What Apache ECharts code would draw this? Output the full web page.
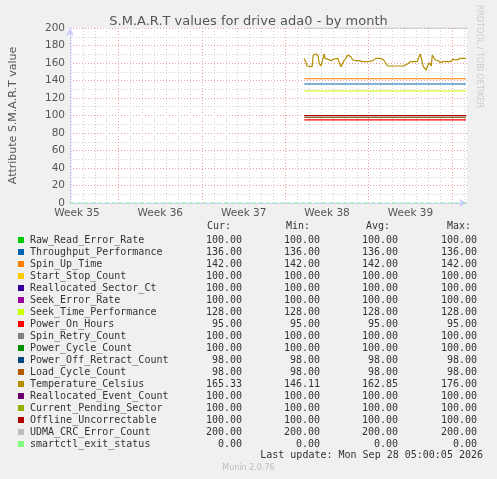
<!DOCTYPE html>
<html><head><meta charset="utf-8">
<script src="https://cdn.jsdelivr.net/npm/echarts@6/dist/echarts.min.js"></script>
<style>html,body{margin:0;background:#f0f0f0}#c{width:497px;height:479px}</style>
</head><body><div id="c"></div>
<script>
// x axis: 2-hour buckets across the month view
const slotCount = 401;
const weekLabels = { 7: 'Week 35', 91: 'Week 36', 175: 'Week 37', 259: 'Week 38', 343: 'Week 39' };
const majorSlots = [49, 133, 217, 301, 385];
const dataStart = 236, dataEnd = 399;

const names = ['Raw_Read_Error_Rate','Throughput_Performance','Spin_Up_Time','Start_Stop_Count',
  'Reallocated_Sector_Ct','Seek_Error_Rate','Seek_Time_Performance','Power_On_Hours','Spin_Retry_Count',
  'Power_Cycle_Count','Power_Off_Retract_Count','Load_Cycle_Count','Temperature_Celsius',
  'Reallocated_Event_Count','Current_Pending_Sector','Offline_Uncorrectable','UDMA_CRC_Error_Count',
  'smartctl_exit_status'];
const colors = ['#00cc00','#0066b3','#ff8000','#ffcc00','#330099','#990099','#ccff00','#ff0000','#808080',
  '#008f00','#00487d','#b35a00','#b38f00','#6b006b','#8fb300','#b30000','#bebebe','#80ff80'];
const cur = [100,136,142,100,100,100,128,95,100,100,98,98,165.33,100,100,100,200,0];
const min = [100,136,142,100,100,100,128,95,100,100,98,98,146.11,100,100,100,200,0];
const avg = [100,136,142,100,100,100,128,95,100,100,98,98,162.85,100,100,100,200,0];
const max = [100,136,142,100,100,100,128,95,100,100,98,98,176,100,100,100,200,0];

const tempIdx = [236,238,239,241,244,245,246,248,250,251,253,255,256,257,260,261,263,265,266,268,
  270,271,273,275,276,278,280,281,283,285,286,288,290,291,293,295,296,298,300,301,
  303,305,306,308,310,313,315,316,318,320,323,326,330,333,336,338,340,343,346,350,
  351,353,354,356,357,359,360,362,364,365,366,368,370,371,373,375,376,380,383,386,
  388,390,391,393,395,396,399];
const tempVal = [165.3,164.6,156.6,155.8,155.8,169.1,167.2,170.3,168,159.6,156.6,156.6,170.3,165.3,164.2,165.3,162.7,162.7,164.6,162.7,
  165.3,161.5,155.8,155.8,162.7,165.3,169.1,170.3,167.2,163.4,161.5,162.7,161.5,162.7,161.5,161.5,162.7,161.5,162.7,161.5,
  163.4,162.7,164.2,165.3,165.3,165.3,165.3,163.4,163.4,156.6,156.6,156.6,156.6,156.6,156.6,157.7,158.9,161.5,161.5,161.5,
  165.3,170.3,165.3,155.8,156.6,152,155.8,160.4,156.6,169.1,167.2,163.4,163.4,162.7,160.4,158.9,161.5,161.5,161.5,164.2,
  165.3,163.4,163.4,165.3,164.2,165.3,165.3];

const slots = Array.from({ length: slotCount }, (_, i) => String(i));
const fmt = v => v.toFixed(2);

const series = names.map((n, k) => {
  let data;
  if (n === 'Temperature_Celsius') data = tempIdx.map((x, j) => [x, tempVal[j]]);
  else if (n === 'smartctl_exit_status') data = [[0, cur[k]], [dataEnd, cur[k]]];
  else data = [[dataStart, cur[k]], [dataEnd, cur[k]]];
  return {
    name: n, type: 'line', data, symbol: 'none', animation: false,
    lineStyle: { color: colors[k], width: 1.2, type: n === 'smartctl_exit_status' ? [4, 3] : 'solid' },
    itemStyle: { color: colors[k] }
  };
});

const grid = { left: 67, right: 30, top: 28, bottom: 276 };
const chart = echarts.init(document.getElementById('c'), null, { renderer: 'canvas' });
chart.setOption({
  backgroundColor: '#f0f0f0',
  textStyle: { fontFamily: 'DejaVu Sans' },
  title: { text: 'S.M.A.R.T values for drive ada0 - by month', left: 'center', top: 10,
    textStyle: { fontSize: 13, fontWeight: 'normal', color: '#555' } },
  grid: Object.assign({ backgroundColor: '#fff', show: true, borderWidth: 0 }, grid),
  xAxis: [{
    type: 'category', data: slots, boundaryGap: false,
    axisLine: { lineStyle: { color: '#ccccff' }, symbol: ['none', 'arrow'], symbolSize: [6, 8] },
    axisTick: { show: false },
    axisLabel: { interval: i => weekLabels[i] !== undefined, formatter: (v, i) => weekLabels[i] || '',
      color: '#555', fontSize: 10.5, margin: 5 },
    splitLine: { show: true, interval: i => majorSlots.includes(i), lineStyle: { color: '#e8a0a0', type: [1, 2] } }
  }, {
    type: 'category', data: slots, boundaryGap: false, show: true, position: 'bottom',
    axisLine: { show: false }, axisTick: { show: false }, axisLabel: { show: false },
    splitLine: { show: true, interval: i => i % 12 === 1 && !majorSlots.includes(i), lineStyle: { color: '#d0d0d0', type: [1, 2] } }
  }],
  yAxis: {
    type: 'value', min: 0, max: 200, interval: 20,
    name: 'Attribute S.M.A.R.T value', nameLocation: 'middle', nameGap: 51, nameRotate: 90,
    nameTextStyle: { color: '#555', fontSize: 11 },
    axisLine: { show: true, lineStyle: { color: '#ccccff' }, symbol: ['none', 'arrow'], symbolSize: [6, 8] },
    axisTick: { show: false },
    axisLabel: { color: '#555', fontSize: 10.5, margin: 5 },
    splitLine: { lineStyle: { color: '#e8a0a0', type: [1, 2] } },
    minorTick: { show: false, splitNumber: 2 },
    minorSplitLine: { show: true, lineStyle: { color: '#d0d0d0', type: [1, 2] } }
  },
  legend: {
    orient: 'vertical', left: 13, top: 229, itemGap: 0, itemWidth: 6, itemHeight: 6,
    icon: 'rect', selectedMode: false, data: names.map((n, k) => ({ name: n, itemStyle: { color: colors[k] } })),
    formatter: n => {
      const k = names.indexOf(n);
      return `{n|${n}}{c|${fmt(cur[k])}}{m|${fmt(min[k])}}{a|${fmt(avg[k])}}{x|${fmt(max[k])}}`;
    },
    textStyle: {
      fontFamily: 'DejaVu Sans Mono', fontSize: 10, color: '#333', lineHeight: 12, padding: [0, 0, 0, 1],
      rich: {
        n: { width: 152, fontFamily: 'DejaVu Sans Mono', fontSize: 10, color: '#333' },
        c: { width: 60, align: 'right', fontFamily: 'DejaVu Sans Mono', fontSize: 10, color: '#333' },
        m: { width: 78, align: 'right', fontFamily: 'DejaVu Sans Mono', fontSize: 10, color: '#333' },
        a: { width: 78, align: 'right', fontFamily: 'DejaVu Sans Mono', fontSize: 10, color: '#333' },
        x: { width: 79, align: 'right', fontFamily: 'DejaVu Sans Mono', fontSize: 10, color: '#333' }
      }
    }
  },
  graphic: [
    ...[['Cur:', 231], ['Min:', 310], ['Avg:', 390], ['Max:', 471]].map(([t, x]) => ({
      type: 'text', right: 497 - x, top: 221, style: { text: t, font: '10px "DejaVu Sans Mono"', fill: '#333' } })),
    { type: 'text', right: 14, top: 450, style: { text: 'Last update: Mon Sep 28 05:00:05 2026', font: '10px "DejaVu Sans Mono"', fill: '#333' } },
    { type: 'text', left: 'center', top: 464, style: { text: 'Munin 2.0.76', font: '8px "DejaVu Sans"', fill: '#bbb' } },
    { type: 'text', x: 483, y: 5, rotation: -Math.PI / 2, style: { text: 'RRDTOOL / TOBI OETIKER', font: '8px "DejaVu Sans"', fill: '#ccc' } }
  ],
  series
});
</script></body></html>
